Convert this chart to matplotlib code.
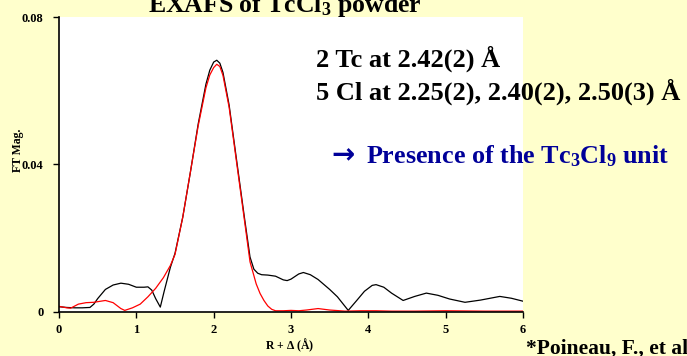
import numpy as np
import matplotlib
matplotlib.use("Agg")
import matplotlib.pyplot as plt

plt.rcParams['font.family'] = ['Liberation Serif', 'DejaVu Serif']
plt.rcParams['font.weight'] = 'bold'
plt.rcParams['mathtext.fontset'] = 'custom'
plt.rcParams['mathtext.rm'] = 'Liberation Serif:bold'
plt.rcParams['mathtext.bf'] = 'Liberation Serif:bold'
plt.rcParams['mathtext.it'] = 'Liberation Serif:bold'

# experimental FT magnitude (black)
r_exp = [0.0, 0.1, 0.2, 0.3, 0.4, 0.45, 0.5, 0.6, 0.7, 0.8, 0.9, 1.0, 1.1, 1.15,
         1.2, 1.25, 1.31, 1.36, 1.44, 1.5, 1.6, 1.7, 1.8, 1.9, 1.95, 2.0, 2.04,
         2.08, 2.12, 2.2, 2.3, 2.4, 2.47, 2.52, 2.57, 2.62, 2.7, 2.8, 2.9, 2.95,
         3.0, 3.1, 3.16, 3.25, 3.35, 3.5, 3.6, 3.74, 3.85, 3.95, 4.05, 4.1, 4.2,
         4.3, 4.45, 4.6, 4.75, 4.9, 5.05, 5.25, 5.45, 5.7, 5.85, 6.0]
ft_exp = [0.0013, 0.0011, 0.0010, 0.0010, 0.0011, 0.0020, 0.0035, 0.0060, 0.0072,
          0.0077, 0.0074, 0.0066, 0.0066, 0.0067, 0.0058, 0.0035, 0.0012, 0.0055,
          0.0120, 0.0158, 0.0256, 0.0380, 0.0510, 0.0618, 0.0656, 0.0678, 0.0683,
          0.0675, 0.0650, 0.0561, 0.0406, 0.0252, 0.0148, 0.0115, 0.0104, 0.0100,
          0.0099, 0.0096, 0.0086, 0.0084, 0.0088, 0.0102, 0.0106, 0.0100, 0.0087,
          0.0060, 0.0040, 0.0003, 0.0030, 0.0055, 0.0071, 0.0073, 0.0066, 0.0050,
          0.0030, 0.0041, 0.0050, 0.0044, 0.0034, 0.0025, 0.0031, 0.0041, 0.0036,
          0.0028]

# fit (red)
r_fit = [0.0, 0.1, 0.15, 0.25, 0.35, 0.45, 0.6, 0.7, 0.8, 0.85, 0.95, 1.05, 1.15,
         1.25, 1.35, 1.44, 1.5, 1.6, 1.7, 1.8, 1.9, 1.95, 2.0, 2.04, 2.08, 2.12,
         2.2, 2.3, 2.4, 2.47, 2.55, 2.6, 2.65, 2.7, 2.75, 2.8, 2.9, 3.0, 3.1, 3.2,
         3.35, 3.5, 3.7, 3.9, 4.1, 4.3, 4.6, 5.0, 5.5, 6.0]
ft_fit = [0.0014, 0.0010, 0.0009, 0.0020, 0.0024, 0.0025, 0.0030, 0.0024, 0.0008,
          0.0003, 0.0010, 0.0020, 0.0040, 0.0063, 0.0092, 0.0125, 0.0155, 0.0256,
          0.0380, 0.0505, 0.0608, 0.0643, 0.0663, 0.0672, 0.0666, 0.0642, 0.0555,
          0.0400, 0.0245, 0.0135, 0.0075, 0.0049, 0.0030, 0.0015, 0.0006, 0.0002,
          0.0002, 0.0003, 0.0002, 0.0004, 0.0008, 0.0004, 0.0001, 0.0002, 0.0002,
          0.0001, 0.0001, 0.0002, 0.0001, 0.0001]

xticks = [0, 1, 2, 3, 4, 5, 6]
yticks = [0, 0.04, 0.08]
ytick_labels = ['0', '0.04', '0.08']

W, H = 687, 356
fig = plt.figure(figsize=(W / 100, H / 100), dpi=100, facecolor='#FFFFCC')
ax = fig.add_axes([59 / W, 1 - 311.5 / H, 464 / W, 294.3 / H])
ax.set_facecolor('white')

ax.plot(r_exp, ft_exp, color='black', lw=0.9)
ax.plot(r_fit, ft_fit, color='red', lw=0.9)

ax.set_xlim(0, 6)
ax.set_ylim(0, 0.08)
ax.set_xticks(xticks)
ax.set_xticklabels([str(t) for t in xticks])
ax.set_yticks(yticks)
ax.set_yticklabels(ytick_labels)
ax.tick_params(labelsize=9, length=4, width=1, pad=5, direction='out')
ax.tick_params(axis='y', pad=7)
for s in ['top', 'right']:
    ax.spines[s].set_visible(False)
for s in ['left', 'bottom']:
    ax.spines[s].set_linewidth(1.2)

def px(x, y):
    return x / W, 1 - y / H

fig.text(*px(17.5, 150), 'FT Mag.', rotation=90, ha='center', va='center',
         fontsize=8.5, fontweight='bold')
fig.text(*px(290, 349), r'R + $\mathbf{\Delta}$ (Å)', ha='center', va='baseline',
         fontsize=8.5, fontweight='bold')

fig.text(*px(148, 12), r'EXAFS of TcCl$_\mathbf{3}$ powder', ha='left', va='baseline',
         fontsize=18.5, fontweight='bold')

fig.text(*px(316, 67), '2 Tc at 2.42(2) Å', ha='left', va='baseline',
         fontsize=19, fontweight='bold')
fig.text(*px(316, 100), '5 Cl at 2.25(2), 2.40(2), 2.50(3) Å', ha='left',
         va='baseline', fontsize=19, fontweight='bold')
fig.text(*px(331, 163), '→', ha='left', va='baseline', fontsize=20,
         fontweight='bold', color='#000099', family=['DejaVu Sans'])
fig.text(*px(366, 163), r'Presence of the Tc$_\mathbf{3}$Cl$_\mathbf{9}$ unit',
         ha='left', va='baseline', fontsize=18.8, fontweight='bold', color='#000099')

fig.text(*px(526, 354), '*Poineau, F., et al', ha='left', va='baseline',
         fontsize=15.5, fontweight='bold')

fig.savefig('out.png', dpi=100, facecolor=fig.get_facecolor())
